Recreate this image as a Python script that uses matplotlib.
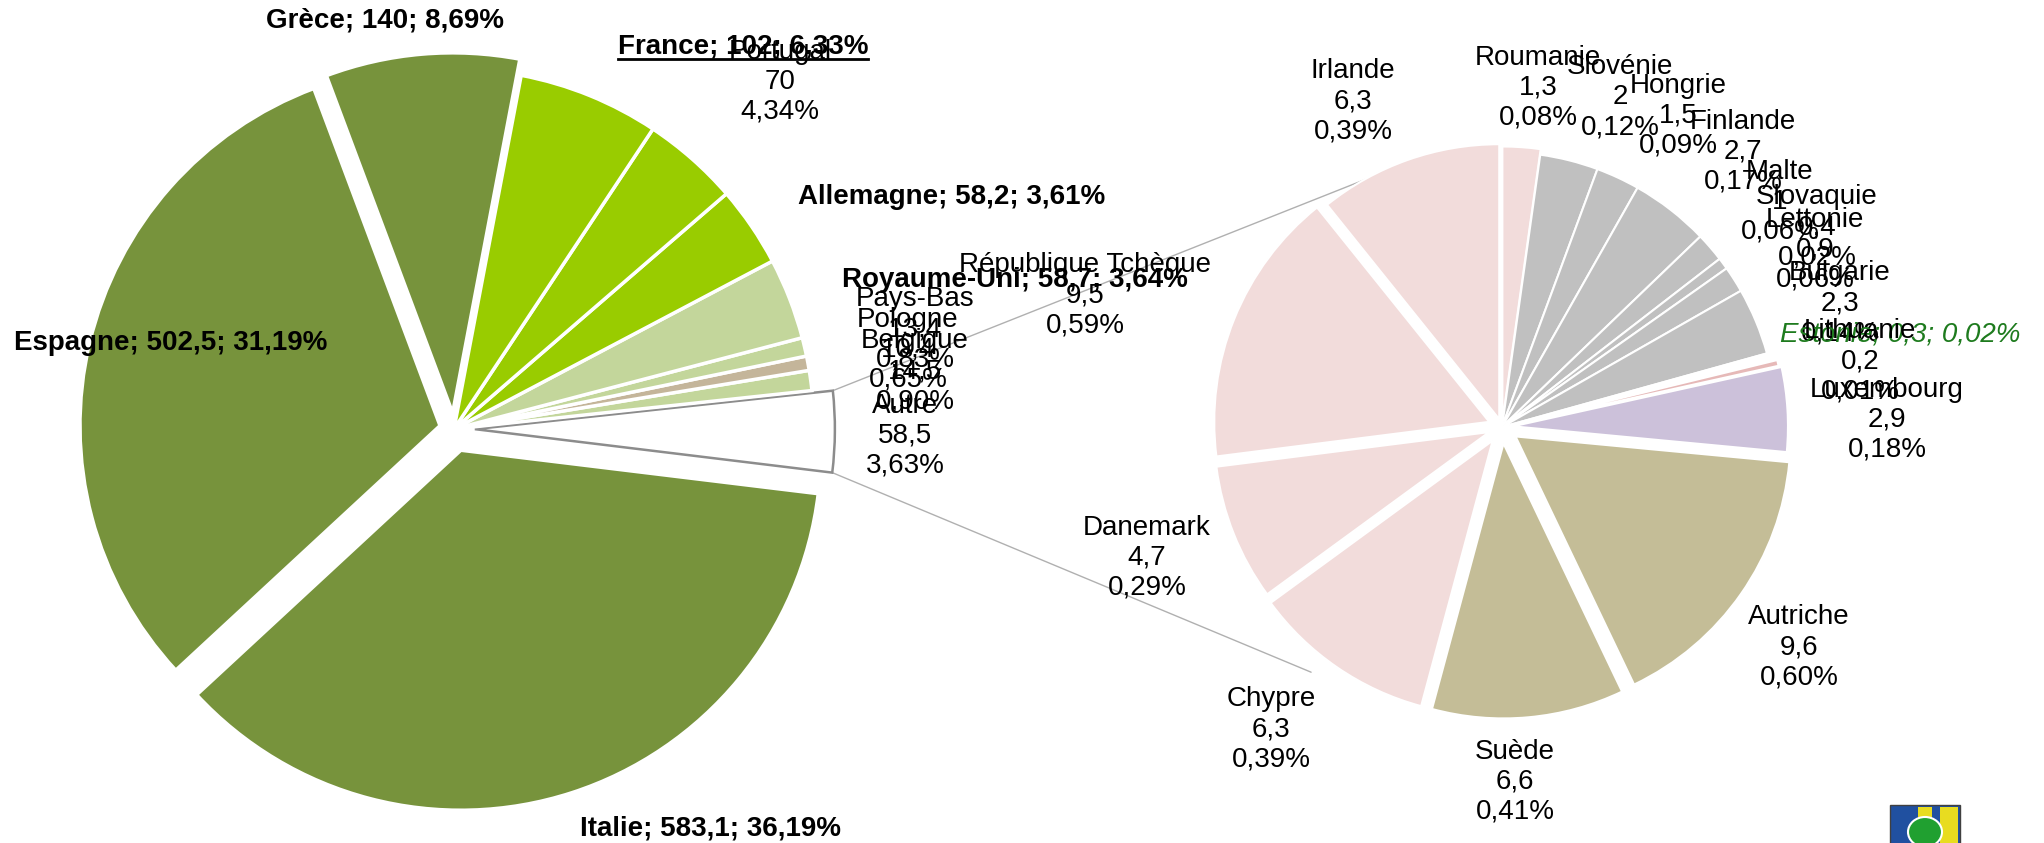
import matplotlib
matplotlib.use('Agg')
import matplotlib.pyplot as plt
from matplotlib.patches import ConnectionPatch, Rectangle, Ellipse
from matplotlib.lines import Line2D
import numpy as np

# ---------------- data ----------------
left_names = ['Autre', 'Belgique', 'Pologne', 'Pays-Bas', 'Royaume-Uni', 'Allemagne',
              'Portugal', 'France', 'Grèce', 'Espagne', 'Italie']
left_values = [58.5, 14.5, 10.4, 13.4, 58.7, 58.2, 70, 102, 140, 502.5, 583.1]

right_names = ['Roumanie', 'Slovénie', 'Hongrie', 'Finlande', 'Malte', 'Slovaquie',
               'Lettonie', 'Bulgarie', 'Estonie', 'Lithuanie', 'Luxembourg',
               'Autriche', 'Suède', 'Chypre', 'Danemark', 'République Tchèque', 'Irlande']
right_values = [1.3, 2, 1.5, 2.7, 1.0, 0.4, 0.9, 2.3, 0.3, 0.2, 2.9,
                9.6, 6.6, 6.3, 4.7, 9.5, 6.3]

# ---------------- styles ----------------
OLIVE, LIME, LGREEN, TAN = '#77933C', '#99CC00', '#C3D69B', '#C4B59A'
PINK, GRAY, LAV, KHAKI = '#F2DCDB', '#C0C0C0', '#CCC1DA', '#C4BD97'
left_colors = ['white', LGREEN, TAN, LGREEN, LGREEN, LIME, LIME, LIME, OLIVE, OLIVE, OLIVE]
left_explode = [0.058, 0, 0, 0, 0, 0, 0, 0, 0.045, 0.04, 0.062]
left_bold = [False, False, False, False, True, True, False, True, True, True, True]
right_colors = [PINK, GRAY, GRAY, GRAY, GRAY, GRAY, GRAY, GRAY, 'white', '#E6B9B8', LAV,
                KHAKI, KHAKI, PINK, PINK, PINK, PINK]
right_explode = [0.02, 0, 0, 0, 0, 0, 0, 0, 0.03, 0.03, 0.04,
                 0.06, 0.06, 0.06, 0.05, 0.05, 0.03]

# label block centres (pixels from top-left)
left_label_pos = [(905, 436), (915, 371), (908, 350), (915, 329), (1015, 280), (952, 197),
                  (780, 82), (743, 47), (385, 21), (171, 343), (710, 828)]
right_label_pos = [(1538, 88), (1620, 97), (1678, 116), (1743, 152), (1780, 202),
                   (1817, 227), (1815, 250), (1840, 303), (1900, 335), (1860, 361),
                   (1887, 420), (1799, 647), (1515, 782), (1271, 729), (1147, 558),
                   (1085, 295), (1353, 101)]

W, H = 2044, 843
plt.rcParams['font.family'] = ['Liberation Sans', 'DejaVu Sans']
fig = plt.figure(figsize=(W / 100, H / 100), dpi=100)
fig.patch.set_facecolor('white')

total = sum(left_values)


def fmt_val(v):
    return ('%g' % v).replace('.', ',')


def fmt_pct(v):
    return ('%.2f%%' % (100 * v / total)).replace('.', ',')


LIM = 1.3


def add_axes_px(cx, cy_top, R):
    size = 2 * LIM * R
    cy = H - cy_top
    ax = fig.add_axes([(cx - size / 2) / W, (cy - size / 2) / H, size / W, size / H])
    return ax


def finish(ax):
    ax.set_xlim(-LIM, LIM)
    ax.set_ylim(-LIM, LIM)
    ax.set_aspect('equal')
    ax.axis('off')
    ax.patch.set_visible(False)


# ---------------- left pie ----------------
ax1 = add_axes_px(454, 429, 360)
autre_ang = 360 * left_values[0] / total
shift = -0.4
w1, _ = ax1.pie(left_values, colors=left_colors, startangle=-autre_ang / 2 + shift,
                counterclock=True, explode=left_explode, radius=1,
                wedgeprops=dict(edgecolor='white', linewidth=2.5))
w1[0].set_edgecolor('#8C8C8C')
w1[0].set_linewidth(1.8)
finish(ax1)

# ---------------- right pie ----------------
ax2 = add_axes_px(1502, 427, 275)
w2, _ = ax2.pie(right_values, colors=right_colors, startangle=90, counterclock=False,
                explode=right_explode, radius=1,
                wedgeprops=dict(edgecolor='white', linewidth=1.5))
finish(ax2)

# ---------------- series lines ----------------
ex = left_explode[0]
a_top = np.deg2rad(autre_ang / 2 + shift)
a_bot = np.deg2rad(-autre_ang / 2 + shift)
a_mid = np.deg2rad(shift)
off = (ex * np.cos(a_mid), ex * np.sin(a_mid))
for aA, aB, rB in [(a_top, np.deg2rad(112.4), 1.02), (a_bot, np.deg2rad(-127.9), 1.13)]:
    con = ConnectionPatch(xyA=(off[0] + np.cos(aA), off[1] + np.sin(aA)), coordsA=ax1.transData,
                          xyB=(rB * np.cos(aB), rB * np.sin(aB)), coordsB=ax2.transData,
                          color='#B0B0B0', lw=1, zorder=-1)
    fig.add_artist(con)

# ---------------- labels ----------------
renderer = fig.canvas.get_renderer()
for name, v, bold, (x, y) in zip(left_names, left_values, left_bold, left_label_pos):
    if bold:
        s = f'{name}; {fmt_val(v)}; {fmt_pct(v)}'
    else:
        s = f'{name}\n{fmt_val(v)}\n{fmt_pct(v)}'
    t = fig.text(x / W, 1 - y / H, s, ha='center', va='center', fontsize=20,
                 fontweight='bold' if bold else 'normal', color='black',
                 multialignment='center', linespacing=1.2)
    if name == 'France':
        bb = t.get_window_extent(renderer)
        fig.add_artist(Line2D([bb.x0 / W, bb.x1 / W], [(bb.y0 + 1) / H] * 2,
                              transform=fig.transFigure, color='black', lw=2))

for name, v, (x, y) in zip(right_names, right_values, right_label_pos):
    if name == 'Estonie':
        fig.text(x / W, 1 - y / H, f'{name}; {fmt_val(v)}; {fmt_pct(v)}', ha='center',
                 va='center', fontsize=20, style='italic', color='#1E7B1E')
    else:
        fig.text(x / W, 1 - y / H, f'{name}\n{fmt_val(v)}\n{fmt_pct(v)}', ha='center',
                 va='center', fontsize=20, color='black', multialignment='center',
                 linespacing=1.2)

# ---------------- small logo (bottom right) ----------------
def px_rect(x0, y0, x1, y1, **kw):
    fig.add_artist(Rectangle((x0 / W, 1 - y1 / H), (x1 - x0) / W, (y1 - y0) / H,
                             transform=fig.transFigure, **kw))

px_rect(1890, 805, 1960, 845, facecolor='#2050A0', edgecolor='#404040', lw=1)
px_rect(1940, 807, 1958, 845, facecolor='#E8DC20', edgecolor='none')
px_rect(1918, 807, 1932, 822, facecolor='#E8DC20', edgecolor='none')
fig.add_artist(Ellipse((1925 / W, 1 - 832 / H), 34 / W, 30 / H, transform=fig.transFigure,
                       facecolor='#20A030', edgecolor='white', lw=1.5))

fig.savefig('out.png', dpi=100)
